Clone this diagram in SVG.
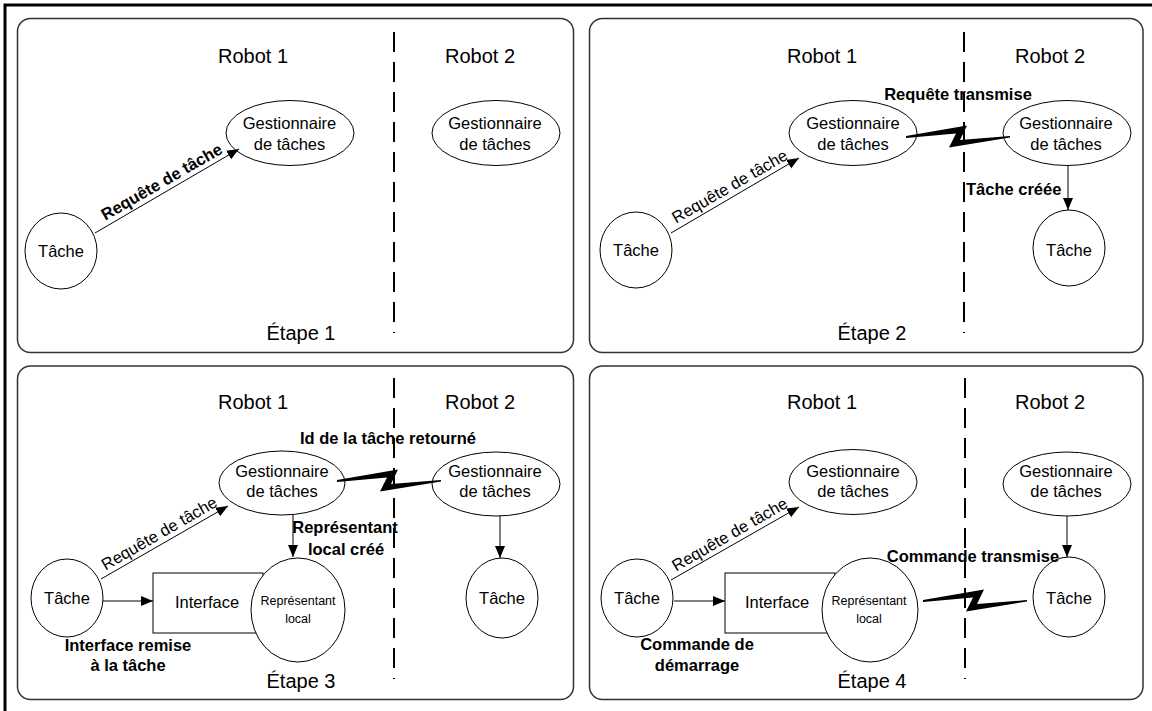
<svg xmlns="http://www.w3.org/2000/svg" width="1152" height="711" viewBox="0 0 1152 711">
<defs>
<style>
text { font-family: "Liberation Sans", Arial, sans-serif; fill: #000; }
.hdr { font-size: 20px; text-anchor: middle; }
.nt { font-size: 16.5px; text-anchor: middle; }
.sm { font-size: 12.5px; text-anchor: middle; }
.lb { font-size: 16.5px; font-weight: bold; }
.mid { text-anchor: middle; }
.panel { fill: #fff; stroke: #333; stroke-width: 1.5; }
.node { fill: #fff; stroke: #000; stroke-width: 1; }
.div { stroke: #000; stroke-width: 2; stroke-dasharray: 20 10; fill: none; }
.arr { stroke: #000; stroke-width: 1; fill: none; marker-end: url(#ah); }
.bolt { fill: #000; }
</style>
<marker id="ah" markerUnits="userSpaceOnUse" markerWidth="13" markerHeight="11" refX="12" refY="5" orient="auto">
<path d="M0,0 L12,5 L0,10 z" fill="#000"/>
</marker>
<path id="bolt" d="M0,-1 L61,-11.5 L54,3 L104,-1 L104,0.5 L43,10.5 L50,-3.5 L0,1 Z"/>
</defs>

<rect width="1152" height="711" fill="#fff"/>
<path d="M1152,5 H5 V711" fill="none" stroke="#000" stroke-width="3"/>

<!-- Panels -->
<g id="panels">
<rect class="panel" x="17.5" y="18.5" width="556" height="334" rx="13" ry="13"/>
<rect class="panel" x="589.5" y="18.5" width="553.5" height="334" rx="13" ry="13"/>
<rect class="panel" x="17.5" y="366" width="556" height="333.5" rx="13" ry="13"/>
<rect class="panel" x="589.5" y="366" width="553.5" height="333.5" rx="13" ry="13"/>
</g>

<g id="dividers">
<line class="div" x1="394" y1="32" x2="394" y2="333"/>
<line class="div" x1="964" y1="32" x2="964" y2="333"/>
<line class="div" x1="394" y1="378" x2="394" y2="679"/>
<line class="div" x1="965" y1="378" x2="965" y2="679"/>
</g>

<g id="headers">
<text class="hdr" x="253" y="63">Robot 1</text>
<text class="hdr" x="480" y="63">Robot 2</text>
<text class="hdr" x="301" y="340">Étape 1</text>
<text class="hdr" x="822" y="63">Robot 1</text>
<text class="hdr" x="1050" y="63">Robot 2</text>
<text class="hdr" x="872" y="340">Étape 2</text>
<text class="hdr" x="253" y="409">Robot 1</text>
<text class="hdr" x="480" y="409">Robot 2</text>
<text class="hdr" x="301" y="688">Étape 3</text>
<text class="hdr" x="822" y="409">Robot 1</text>
<text class="hdr" x="1050" y="409">Robot 2</text>
<text class="hdr" x="872" y="688">Étape 4</text>
</g>

<!-- Panel 1 nodes -->
<g id="p1-tache"><ellipse class="node" cx="61" cy="251" rx="36" ry="38"/><text class="nt" x="61" y="257">Tâche</text></g>
<g id="p1-gest1"><ellipse class="node" cx="290" cy="133" rx="64" ry="32.5"/><text class="nt" x="289.5" y="129">Gestionnaire</text><text class="nt" x="289.5" y="150">de tâches</text></g>
<g id="p1-gest2"><ellipse class="node" cx="496" cy="133" rx="64" ry="32.5"/><text class="nt" x="495" y="129">Gestionnaire</text><text class="nt" x="495" y="150">de tâches</text></g>

<!-- Panel 2 nodes -->
<g id="p2-tache1"><ellipse class="node" cx="636" cy="250" rx="36" ry="38"/><text class="nt" x="636" y="256">Tâche</text></g>
<g id="p2-gest1"><ellipse class="node" cx="853" cy="133" rx="64" ry="32.5"/><text class="nt" x="853" y="129">Gestionnaire</text><text class="nt" x="853" y="150">de tâches</text></g>
<g id="p2-gest2"><ellipse class="node" cx="1067" cy="133" rx="64" ry="32.5"/><text class="nt" x="1066" y="129">Gestionnaire</text><text class="nt" x="1066" y="150">de tâches</text></g>
<g id="p2-tache2"><ellipse class="node" cx="1069" cy="248" rx="36" ry="38"/><text class="nt" x="1069" y="256">Tâche</text></g>

<!-- Panel 3 nodes -->
<g id="p3-tache1"><ellipse class="node" cx="67" cy="598" rx="36" ry="39"/><text class="nt" x="67" y="604">Tâche</text></g>
<g id="p3-gest1"><ellipse class="node" cx="282" cy="483" rx="63" ry="32"/><text class="nt" x="282" y="477">Gestionnaire</text><text class="nt" x="282" y="497">de tâches</text></g>
<g id="p3-gest2"><ellipse class="node" cx="496" cy="484" rx="64" ry="32"/><text class="nt" x="495" y="477">Gestionnaire</text><text class="nt" x="495" y="497">de tâches</text></g>
<g id="p3-interface"><rect class="node" x="153" y="573" width="110" height="60"/><text class="nt" x="207" y="608">Interface</text></g>
<g id="p3-representant"><ellipse class="node" cx="298" cy="610" rx="47" ry="52"/><text class="sm" x="298" y="605">Représentant</text><text class="sm" x="298" y="623">local</text></g>
<g id="p3-tache2"><ellipse class="node" cx="502" cy="598" rx="36" ry="40"/><text class="nt" x="502" y="604">Tâche</text></g>

<!-- Panel 4 nodes -->
<g id="p4-tache1"><ellipse class="node" cx="637" cy="598" rx="36" ry="39"/><text class="nt" x="637" y="604">Tâche</text></g>
<g id="p4-gest1"><ellipse class="node" cx="853" cy="482" rx="64" ry="32.5"/><text class="nt" x="853" y="477">Gestionnaire</text><text class="nt" x="853" y="497">de tâches</text></g>
<g id="p4-gest2"><ellipse class="node" cx="1067" cy="484" rx="64" ry="32"/><text class="nt" x="1066" y="477">Gestionnaire</text><text class="nt" x="1066" y="497">de tâches</text></g>
<g id="p4-interface"><rect class="node" x="725" y="573" width="110" height="60"/><text class="nt" x="777" y="608">Interface</text></g>
<g id="p4-representant"><ellipse class="node" cx="870" cy="610" rx="48" ry="52"/><text class="sm" x="869" y="605">Représentant</text><text class="sm" x="869" y="623">local</text></g>
<g id="p4-tache2"><ellipse class="node" cx="1069" cy="597" rx="36" ry="40"/><text class="nt" x="1069" y="604">Tâche</text></g>

<!-- Connectors -->
<g id="connectors">
<line class="arr" x1="95" y1="233" x2="239" y2="149"/>
<line class="arr" x1="671" y1="233" x2="799" y2="158"/>
<line class="arr" x1="1068" y1="165.5" x2="1068" y2="210"/>
<use href="#bolt" class="bolt" transform="translate(906,137)"/>

<line class="arr" x1="101" y1="579" x2="228" y2="506"/>
<line class="arr" x1="103" y1="601" x2="153" y2="601"/>
<line class="arr" x1="293" y1="515" x2="293" y2="557"/>
<line class="arr" x1="500" y1="516" x2="500" y2="558"/>
<use href="#bolt" class="bolt" transform="translate(337,481)"/>

<line class="arr" x1="671" y1="580" x2="799" y2="507"/>
<line class="arr" x1="674" y1="601" x2="725" y2="601"/>
<line class="arr" x1="1067" y1="516" x2="1067" y2="557"/>
<use href="#bolt" class="bolt" transform="translate(923,601)"/>
</g>

<!-- Connector labels -->
<g id="labels">
<text class="lb mid" transform="translate(164.5,186.7) rotate(-30)">Requête de tâche</text>
<text class="nt" transform="translate(732.5,191.2) rotate(-30)">Requête de tâche</text>
<text class="lb mid" x="958" y="100">Requête transmise</text>
<text class="lb" x="966" y="195">Tâche créée</text>

<text class="nt" transform="translate(162,538.2) rotate(-30)">Requête de tâche</text>
<text class="lb mid" x="388" y="444">Id de la tâche retourné</text>
<text class="lb mid" x="345" y="533">Représentant</text>
<text class="lb mid" x="346" y="555">local créé</text>
<text class="lb mid" x="128" y="651">Interface remise</text>
<text class="lb mid" x="128" y="671">à la tâche</text>

<text class="nt" transform="translate(732.5,539.2) rotate(-30)">Requête de tâche</text>
<text class="lb mid" x="973" y="562">Commande transmise</text>
<text class="lb mid" x="697" y="650">Commande de</text>
<text class="lb mid" x="697" y="671">démarrage</text>
</g>
</svg>
